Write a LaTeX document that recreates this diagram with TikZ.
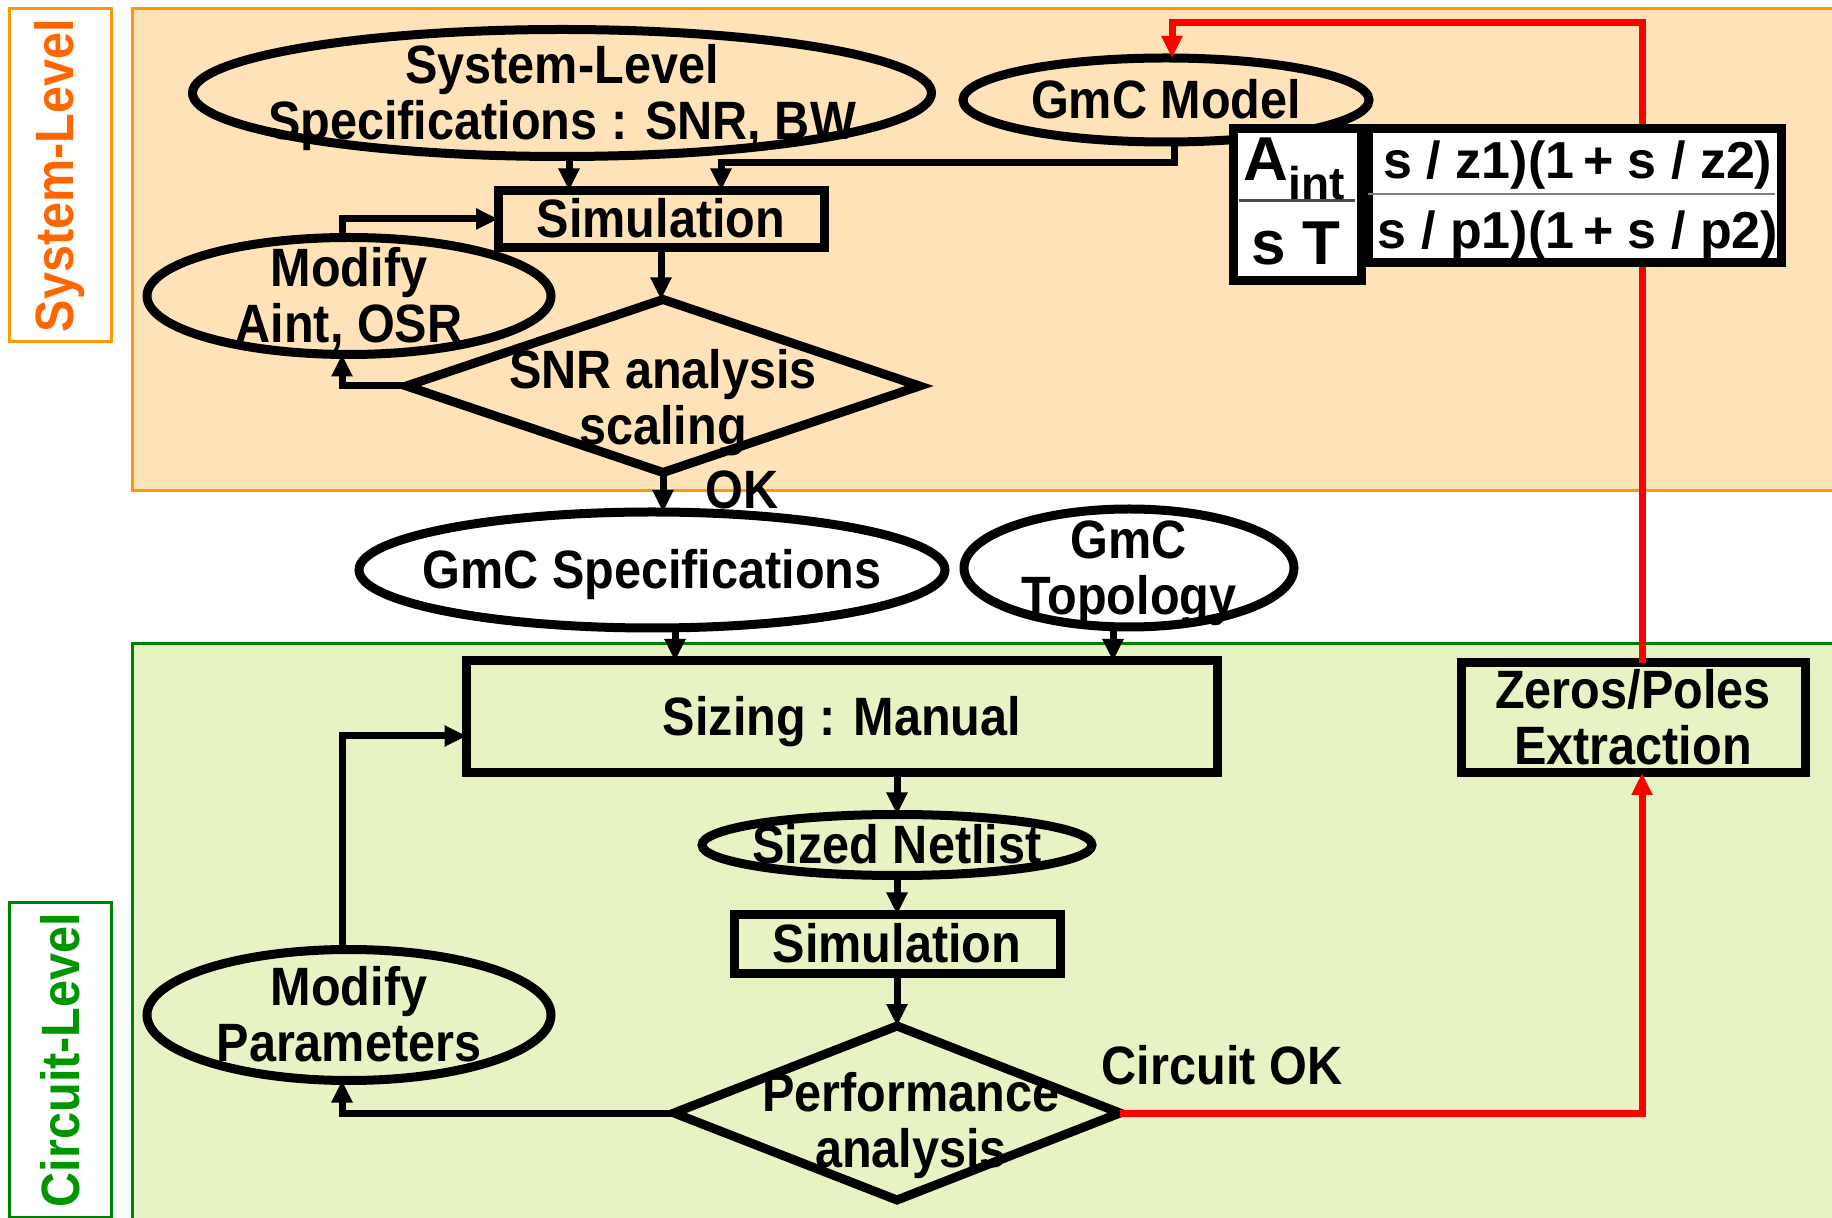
\documentclass[tikz,border=0pt]{standalone}
\usepackage{fontspec}
\setmainfont{Liberation Sans}[FakeStretch=0.9]
\newfontfamily\tffont{Liberation Sans}
\usetikzlibrary{shapes.geometric,arrows.meta}
\definecolor{orbd}{RGB}{255,153,0}
\definecolor{ortx}{RGB}{255,102,0}
\definecolor{orfill}{RGB}{254,226,184}
\definecolor{grbd}{RGB}{0,128,0}
\definecolor{grtx}{RGB}{0,150,0}
\definecolor{grfill}{RGB}{232,243,196}
\definecolor{redln}{RGB}{255,0,0}
\newcommand{\ctxs}[3]{\smash{\raisebox{\dimexpr-10pt-#2\relax}{\makebox[0pt]{\hspace*{#1}\hspace*{#1}\begin{tabular}{@{}c@{}}#3\end{tabular}}}}}
\newcommand{\ctx}[1]{\ctxs{0pt}{0pt}{#1}}
\begin{document}
\begin{tikzpicture}[x=0.5pt,y=-0.5pt,
  font=\bfseries\fontsize{27}{28}\selectfont,
  ell/.style={ellipse, draw, line width=4.5pt, inner sep=0pt, outer sep=0pt},
  bx/.style={rectangle, draw, line width=4.5pt, inner sep=0pt, outer sep=0pt},
  dia/.style={diamond, draw, line width=4.5pt, inner sep=0pt, outer sep=0pt},
  lvl/.style={rectangle, draw, line width=1.5pt, rotate=90, inner sep=0pt},
  arr/.style={line width=3.5pt, -{Triangle[length=11pt,width=10pt]}},
  redarr/.style={arr, draw=redln, color=redln},
  tfbox/.style={rectangle, draw, fill=white, line width=4.5pt, inner sep=0pt}]
\useasboundingbox (0,0) rectangle (1832,1218);
% panels
\filldraw[fill=orfill, draw=orbd, line width=1.5pt] (132,9) rectangle (1845,491);
\filldraw[fill=grfill, draw=grbd, line width=1.5pt] (132,644) rectangle (1845,1230);
\node[lvl, draw=orbd, text=ortx, minimum width=166.5pt, minimum height=51pt] (syslbl) at (60,175.5) {System-Level};
\node[lvl, draw=grbd, text=grtx, minimum width=157pt, minimum height=51pt] (cirlbl) at (60,1060) {Circuit-Level};
% nodes
\node[ell, minimum width=369.5pt, minimum height=63.5pt] (sysspec) at (562,93) {\ctx{System-Level\\Specifications : SNR, BW}};
\node[ell, minimum width=203pt, minimum height=42pt] (gmcmodel) at (1166,100) {\ctx{GmC Model}};
\node[bx, minimum width=163pt, minimum height=28.5pt] (sim) at (661,219) {\ctx{Simulation}};
\node[ell, minimum width=202pt, minimum height=58.5pt] (modaint) at (349,296) {\ctx{Modify\\Aint, OSR}};
\node[dia, minimum width=256.5pt, minimum height=86.5pt] (snr) at (663,386) {\ctxs{0pt}{6pt}{SNR analysis\\scaling}};
\node (oklbl) at (742,490) {OK};
\node[ell, minimum width=293pt, minimum height=58pt] (gmcspec) at (652,570) {\ctx{GmC Specifications}};
\node[ell, minimum width=165pt, minimum height=59pt] (topo) at (1129,568) {\ctx{GmC\\Topology}};
\node[bx, minimum width=375.5pt, minimum height=56pt] (sizing) at (842,717) {\ctx{Sizing : Manual}};
\node[bx, minimum width=172pt, minimum height=55pt] (zeros) at (1633,718) {\ctx{Zeros/Poles\\Extraction}};
\node[ell, minimum width=195pt, minimum height=30.5pt] (netlist) at (897,845) {\ctx{Sized Netlist}};
\node[bx, minimum width=163pt, minimum height=29.5pt] (sim2) at (897,944) {\ctx{Simulation}};
\node[ell, minimum width=202pt, minimum height=65.5pt] (modpar) at (349,1015) {\ctx{Modify\\Parameters}};
\node[dia, minimum width=223pt, minimum height=87pt] (perf) at (897,1113) {\ctxs{7pt}{4pt}{Performance\\analysis}};
\node (cirok) at (1222,1065) {Circuit OK};
% red feedback
\coordinate (rtop) at (1642,23);
\draw[redarr] (perf.east) -| ([xshift=4.5pt]zeros.south);
\draw[redarr] ([xshift=4.5pt]zeros.north) -- (rtop) -| ([xshift=3pt]gmcmodel.north);
% transfer function box
\node[tfbox, minimum width=206.5pt, minimum height=67pt] (tfr) at (1575,195.5) {};
\node[tfbox, minimum width=64pt, minimum height=76pt] (tfl) at (1297.5,204.5) {};
\draw[gray, line width=1pt] (1368,194) -- (1775,194);
\draw[black!70, line width=1.5pt] (1239,201) -- (1355,201);
\node[anchor=base, font=\tffont\bfseries\fontsize{31}{31}\selectfont] (tfa) at (1294,181) {A\raisebox{-0.3em}{\fontsize{23}{23}\selectfont int}};
\node[anchor=base, font=\tffont\bfseries\fontsize{31}{31}\selectfont] (tfst) at (1296,265) {s T};
\node[anchor=base, font=\tffont\bfseries\fontsize{26}{26}\selectfont] (tfn) at (1578,179) {s / z1)(1\,+ s / z2)};
\node[anchor=base, font=\tffont\bfseries\fontsize{26}{26}\selectfont] (tfd) at (1578,249) {s / p1)(1\,+ s / p2)};
% black connectors
\draw[arr] ([xshift=3.5pt]sysspec.south) -- ([xshift=-46pt]sim.north);
\draw[arr] ([xshift=4pt]gmcmodel.south) -- ++(0,21) -| ([xshift=30pt]sim.north);
\draw[arr] ([xshift=-3.5pt]modaint.north) |- (sim.west);
\draw[arr] (sim.south) -- (sim.south |- snr.north);
\draw[arr] (snr.west) -| ([xshift=-3.5pt]modaint.south);
\draw[arr] (snr.south) -- (snr.south |- gmcspec.north);
\draw[arr] ([xshift=11.5pt]gmcspec.south) -- ([xshift=-83.5pt]sizing.north);
\draw[arr] ([xshift=-8pt]topo.south) -- ([xshift=135.5pt]sizing.north);
\draw[arr] ([xshift=27.5pt]sizing.south) -- (netlist.north);
\draw[arr] (netlist.south) -- (sim2.north);
\draw[arr] (sim2.south) -- (perf.north);
\draw[arr] (perf.west) -| ([xshift=-3.5pt]modpar.south);
\draw[arr] ([xshift=-3.5pt]modpar.north) |- ([yshift=-9.5pt]sizing.west);
\end{tikzpicture}
\end{document}
